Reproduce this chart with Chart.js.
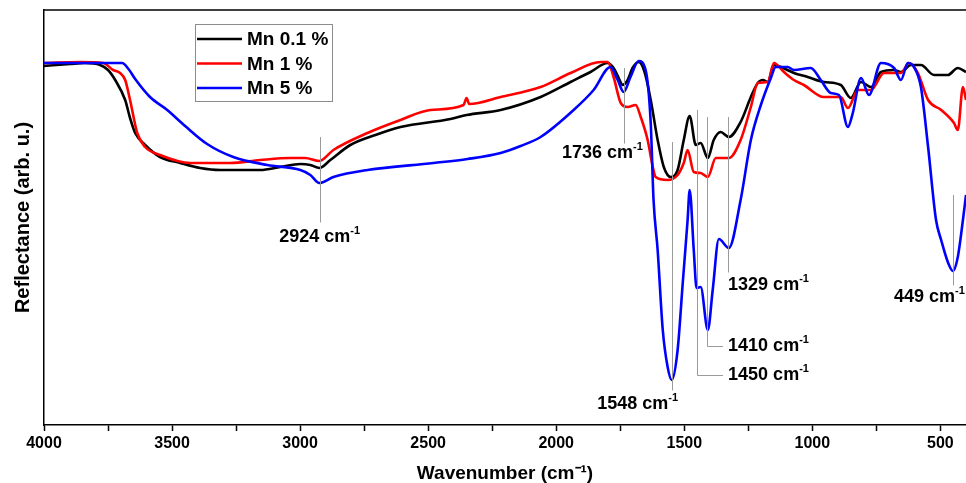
<!DOCTYPE html>
<html><head><meta charset="utf-8">
<script src="https://cdn.jsdelivr.net/npm/chart.js@4.4.1/dist/chart.umd.min.js"></script>
<style>html,body{margin:0;padding:0;background:#fff;}#wrap{width:966px;height:483px;}</style>
</head><body><div id="wrap"><canvas id="c" width="966" height="483"></canvas></div>
<script>
// ---- data (reflectance in arbitrary units) ----
const seriesNames = ['Mn 0.1 %', 'Mn 1 %', 'Mn 5 %'];

const mn01Wavenumber = [4000,3898,3840,3781,3750,3722,3683,3664,3644,3605,3547,3468,3390,3312,3156,3077,2999,2960,2925,2882,2804,2706,2608,2413,2350,2217,2061,1944,1866,1799,1776,1756,1741,1721,1702,1678,1655,1631,1604,1580,1553,1526,1502,1479,1455,1436,1408,1385,1358,1326,1280,1240,1213,1193,1174,1150,1123,1072,1018,955,889,850,810,771,732,681,654,615,576,525,471,432,400];
const mn01Reflectance = [359,361,362,360,355,345,325,307,292,280,268,262,257,255,255,258,261,260,257,265,280,290,298,306,310,315,328,343,353,362,357,347,340,345,357,363,353,325,285,258,248,255,285,309,280,282,267,285,293,288,303,328,342,345,343,360,358,352,348,343,340,327,343,338,353,355,353,360,360,350,350,357,353];

const mn1Wavenumber = [4000,3859,3769,3730,3703,3683,3664,3636,3605,3547,3429,3273,3156,3038,2980,2925,2870,2737,2608,2491,2362,2350,2340,2217,2061,1944,1827,1799,1776,1748,1721,1690,1670,1643,1623,1612,1565,1526,1502,1487,1463,1436,1408,1377,1326,1280,1240,1213,1174,1150,1111,1072,1033,955,889,861,822,771,720,654,623,588,548,497,447,432,412,400];
const mn1Reflectance = [362,363,362,355,352,345,325,292,278,270,262,262,265,267,267,264,275,292,305,315,320,327,321,328,338,352,363,363,348,322,318,320,308,285,258,248,245,250,262,275,253,252,248,267,267,285,318,342,343,362,353,345,340,328,328,317,335,335,352,352,362,352,325,315,302,295,338,325];

const mn5Wavenumber = [4000,3695,3670,3644,3586,3519,3449,3363,3261,3128,2999,2960,2925,2870,2737,2479,2346,2217,2139,2061,1932,1854,1788,1760,1737,1710,1678,1651,1631,1620,1604,1584,1565,1549,1526,1506,1487,1479,1463,1452,1436,1408,1389,1365,1326,1280,1240,1201,1162,1143,1096,1072,1006,967,928,896,861,842,810,779,732,681,654,627,603,576,548,517,497,471,451,432,412,400];
const mn5Reflectance = [362,362,356,346,328,315,299,281,268,260,255,250,242,248,255,262,266,272,279,288,315,335,358,345,333,348,364,355,302,225,175,95,58,45,75,142,205,235,175,137,138,95,135,186,177,225,285,320,347,358,358,355,357,345,332,330,298,312,347,330,362,357,345,362,358,338,278,205,185,163,154,168,205,230];

const xMajorTicks = [4000,3500,3000,2500,2000,1500,1000,500];
const xMinorTicks = [3750,3250,2750,2250,1750,1250,750];
const peakPositions = [2924, 1736, 1548, 1450, 1410, 1329, 449];

// annotation geometry (data units: wavenumber / reflectance)
const peakMarks = [
  {top:288, bottom:203, labelWn:2924, labelY:188, align:'center'},
  {top:357, bottom:282, labelWn:1662, labelY:272, align:'right'},
  {top:283, bottom:35,  labelWn:1682, labelY:21,  align:'center'},
  {top:315, bottom:50,  elbowWn:1349, labelWn:1329, labelY:50, align:'left'},
  {top:308, bottom:79,  elbowWn:1349, labelWn:1329, labelY:79, align:'left'},
  {top:308, bottom:153, labelWn:1329, labelY:140, align:'left'},
  {top:230, bottom:140, labelWn:681, labelY:128, align:'left'}
];

const colors = ['#000000', '#ff0000', '#0000ff'];
const FONT = "'Liberation Sans', Arial, Helvetica, sans-serif";

function pts(xs, ys) { return xs.map((x, i) => ({x: x, y: ys[i]})); }

const datasets = [
  {label: seriesNames[0], data: pts(mn01Wavenumber, mn01Reflectance), borderColor: colors[0], order: 3},
  {label: seriesNames[1], data: pts(mn1Wavenumber, mn1Reflectance), borderColor: colors[1], order: 2},
  {label: seriesNames[2], data: pts(mn5Wavenumber, mn5Reflectance), borderColor: colors[2], order: 1}
].map(d => Object.assign(d, {borderWidth: 2.6, pointRadius: 0, fill: false, cubicInterpolationMode: 'monotone'}));

function drawLabel(ctx, text, x, y, align) {
  const main = 'bold 18px ' + FONT, sup = 'bold 11px ' + FONT;
  ctx.font = main; const w1 = ctx.measureText(text + ' cm').width;
  ctx.font = sup; const w2 = ctx.measureText('-1').width;
  const total = w1 + w2;
  let x0 = x;
  if (align === 'center') x0 = x - total / 2;
  else if (align === 'right') x0 = x - total;
  ctx.fillStyle = '#000'; ctx.textAlign = 'left'; ctx.textBaseline = 'middle';
  ctx.font = main; ctx.fillText(text + ' cm', x0, y);
  ctx.font = sup; ctx.fillText('-1', x0 + w1, y - 6);
}

const extras = {
  id: 'extras',
  afterDatasetsDraw(chart) {
    const ctx = chart.ctx, xs = chart.scales.x, ys = chart.scales.y, a = chart.chartArea;
    ctx.save();
    ctx.strokeStyle = '#000'; ctx.lineWidth = 1.5;
    ctx.beginPath(); ctx.moveTo(a.left, a.top); ctx.lineTo(a.right, a.top); ctx.stroke();
    ctx.strokeStyle = '#9a9a9a'; ctx.lineWidth = 1;
    peakPositions.forEach((wn, i) => {
      const m = peakMarks[i];
      const px = Math.round(xs.getPixelForValue(wn)) + 0.5;
      const y1 = ys.getPixelForValue(m.top), y2 = Math.round(ys.getPixelForValue(m.bottom)) + 0.5;
      ctx.beginPath(); ctx.moveTo(px, y1); ctx.lineTo(px, y2);
      if (m.elbowWn) ctx.lineTo(xs.getPixelForValue(m.elbowWn), y2);
      ctx.stroke();
    });
    peakPositions.forEach((wn, i) => {
      const m = peakMarks[i];
      drawLabel(ctx, String(wn), xs.getPixelForValue(m.labelWn), ys.getPixelForValue(m.labelY), m.align);
    });
    ctx.restore();
  },
  afterDraw(chart) {
    const ctx = chart.ctx;
    ctx.save();
    const bx = 195, by = 24, bw = 137, bh = 77;
    ctx.fillStyle = '#fff'; ctx.fillRect(bx, by, bw, bh);
    ctx.strokeStyle = '#8c8c8c'; ctx.lineWidth = 1;
    ctx.strokeRect(bx + 0.5, by + 0.5, bw, bh);
    chart.data.datasets.forEach((d, i) => {
      const y = 39 + i * 24.5;
      ctx.strokeStyle = d.borderColor; ctx.lineWidth = 2.6;
      ctx.beginPath(); ctx.moveTo(197, y); ctx.lineTo(242, y); ctx.stroke();
      ctx.fillStyle = '#000'; ctx.font = 'bold 19px ' + FONT;
      ctx.textAlign = 'left'; ctx.textBaseline = 'middle';
      ctx.fillText(d.label, 247, y + 1);
    });
    ctx.restore();
  }
};

new Chart(document.getElementById('c'), {
  type: 'line',
  data: {datasets: datasets},
  options: {
    responsive: false, animation: false, devicePixelRatio: 1,
    layout: {padding: {top: 10, right: 0, left: 0, bottom: 0}},
    plugins: {legend: {display: false}, tooltip: {enabled: false}},
    scales: {
      x: {
        type: 'linear', reverse: true, min: 400, max: 4000,
        afterBuildTicks(s) {
          s.ticks = xMajorTicks.concat(xMinorTicks).sort((p, q) => q - p).map(v => ({value: v}));
        },
        afterFit(s) { s.height = 58; },
        ticks: {
          autoSkip: false, maxRotation: 0, padding: 3,
          color: '#000', font: {family: FONT, size: 16, weight: 'bold'},
          callback: v => xMajorTicks.includes(v) ? String(v) : ''
        },
        grid: {display: true, drawOnChartArea: false, drawTicks: true, tickLength: 6, tickColor: '#000', tickWidth: 1.5},
        border: {display: true, color: '#000', width: 1.5},
        title: {display: true, text: 'Wavenumber (cm⁻¹)', color: '#000', padding: 0,
                font: {family: FONT, size: 19, weight: 'bold', lineHeight: 1}}
      },
      y: {
        min: 0, max: 415,
        afterFit(s) { s.width = 44; },
        ticks: {display: false},
        grid: {display: false},
        border: {display: true, color: '#000', width: 1.5},
        title: {display: true, text: 'Reflectance (arb. u.)', color: '#000', padding: {top: 13, bottom: 0},
                font: {family: FONT, size: 20, weight: 'bold', lineHeight: 1}}
      }
    }
  },
  plugins: [extras]
});
</script></body></html>
